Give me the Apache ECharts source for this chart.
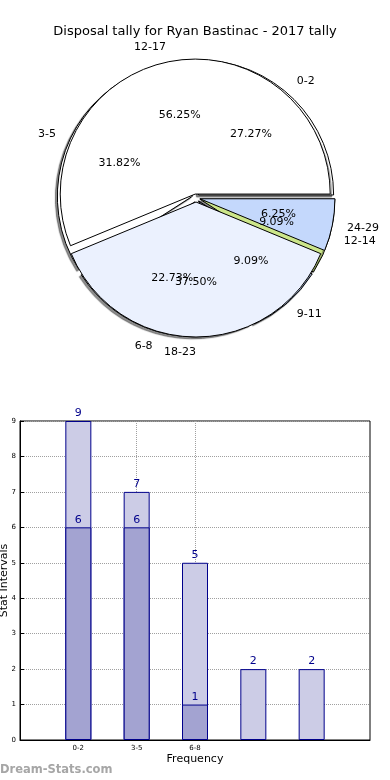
<!DOCTYPE html>
<html>
<head>
<meta charset="utf-8">
<script src="https://cdn.jsdelivr.net/npm/echarts@6/dist/echarts.min.js"></script>
<style>
html,body{margin:0;padding:0;background:#fff;}
#c{width:390px;height:780px;}
</style>
</head>
<body>
<div id="c"></div>
<script>
// ---- data ----
var titleText = 'Disposal tally for Ryan Bastinac - 2017 tally';
var pieANames = ['0-2', '3-5', '6-8', '9-11', '12-14'];
var pieAValues = [6, 7, 5, 2, 2];
var pieBNames = ['12-17', '18-23', '24-29'];
var pieBValues = [9, 6, 1];
var barTickLabels = ['0-2', '3-5', '6-8', '', ''];
var lightBarValues = [9, 7, 5, 2, 2];
var darkBarValues = [6, 6, 1];
var yTicks = [0, 1, 2, 3, 4, 5, 6, 7, 8, 9];

// ---- styles ----
var FONT = 'DejaVu Sans';
var pieAColors = ['#ffffff', '#ffffff', '#eaf0fd', '#c4d8fc', '#cce68a'];
var pieBColors = ['#ffffff', '#ebf1fe', '#c4d8fc'];
var R = 135;
var CENTER = [196, 198];

function pieData(names, values, colors) {
  return names.map(function (n, i) {
    return { name: n, value: values[i], selected: true, itemStyle: { color: colors[i] } };
  });
}
function labelData(names, values) {
  return names.map(function (n, i) { return { name: n, value: values[i] }; });
}
var shadowStyle = { shadowColor: 'rgba(0,0,0,0.45)', shadowBlur: 1, shadowOffsetX: -2, shadowOffsetY: 2 };
var pieCommon = {
  type: 'pie', center: CENTER, radius: [0, R], startAngle: 0, clockwise: false,
  selectedMode: 'multiple', selectedOffset: 4, avoidLabelOverlap: false,
  emphasis: { disabled: true }, silent: true,
  labelLayout: { hideOverlap: false },
  label: { show: true, position: 'outside', color: '#000', fontSize: 11, fontFamily: FONT,
           distanceToLabelLine: 0, alignTo: 'none' },
  labelLine: { show: false, length: 15, length2: 0 }
};
function mainPie(names, values, colors, z, shadow) {
  var st = Object.assign({ borderColor: '#000', borderWidth: 1 }, shadow ? shadowStyle : {});
  return Object.assign({}, pieCommon, {
    z: z,
    data: pieData(names, values, colors),
    itemStyle: st,
    select: { itemStyle: st }
  });
}
function pctPie(names, values, z) {
  return {
    type: 'pie', center: CENTER, radius: [0, R * 1.2], startAngle: 0, clockwise: false,
    silent: true, z: z, emphasis: { disabled: true },
    labelLayout: { hideOverlap: false },
    avoidLabelOverlap: false,
    itemStyle: { color: 'rgba(0,0,0,0)', borderWidth: 0 },
    label: { show: true, position: 'inside', color: '#000', fontSize: 11, fontFamily: FONT,
      formatter: function (p) { return p.percent.toFixed(2) + '%'; } },
    labelLine: { show: false },
    percentPrecision: 4,
    data: labelData(names, values)
  };
}

var xCats = [''].concat(barTickLabels, ['']);
function padBar(vals) {
  var out = [null];
  for (var i = 0; i < barTickLabels.length; i++) out.push(i < vals.length ? vals[i] : null);
  out.push(null);
  return out;
}
var showTick = function (index) { return !!xCats[index]; };

var option = {
  animation: false,
  backgroundColor: '#fff',
  title: { text: titleText, left: 'center', top: 20,
    textStyle: { fontFamily: FONT, fontSize: 13, fontWeight: 'normal', color: '#000' } },
  graphic: [{ type: 'text', left: 0, top: 764,
    style: { text: 'Dream-Stats.com', fill: '#a6a6a6', fontSize: 11.5, fontWeight: 'bold', fontFamily: FONT } }],
  grid: { left: 20, right: 20, top: 421, bottom: 40, show: true, borderColor: '#000', borderWidth: 1,
          containLabel: false, outerBoundsMode: 'none' },
  xAxis: {
    type: 'category', data: xCats, boundaryGap: false,
    axisLine: { lineStyle: { color: '#000' } },
    axisTick: { show: true, inside: true, length: 4, interval: showTick, lineStyle: { color: '#000' } },
    axisLabel: { interval: 0, fontSize: 7, color: '#000', fontFamily: FONT, margin: 5 },
    splitLine: { show: true, interval: showTick, lineStyle: { type: 'dotted', color: '#a0a0a0', width: 1 } },
    name: 'Frequency', nameLocation: 'middle', nameGap: 14, nameMoveOverlap: false,
    nameTextStyle: { fontFamily: FONT, fontSize: 11, color: '#000' }
  },
  yAxis: {
    type: 'value', min: yTicks[0], max: yTicks[yTicks.length - 1], interval: 1,
    axisLine: { show: true, lineStyle: { color: '#000' } },
    axisTick: { show: true, inside: true, length: 4, lineStyle: { color: '#000' } },
    axisLabel: { fontSize: 7, color: '#000', fontFamily: FONT, margin: 4 },
    splitLine: { show: true, lineStyle: { type: 'dotted', color: '#a0a0a0', width: 1 } },
    name: 'Stat Intervals', nameLocation: 'middle', nameGap: 10, nameMoveOverlap: false,
    nameTextStyle: { fontFamily: FONT, fontSize: 11, color: '#000' }
  },
  series: [
    mainPie(pieANames, pieAValues, pieAColors, 2, true),
    mainPie(pieBNames, pieBValues, pieBColors, 3, false),
    pctPie(pieANames, pieAValues, 4),
    pctPie(pieBNames, pieBValues, 5),
    {
      type: 'bar', data: padBar(lightBarValues), barWidth: 26, barGap: '-100%', z: 2,
      itemStyle: { color: '#cccce6', borderColor: '#00008b', borderWidth: 1 },
      label: { show: true, position: 'top', distance: 2, color: '#00008b', fontSize: 11, fontFamily: FONT },
      labelLayout: { hideOverlap: false },
      emphasis: { disabled: true }
    },
    {
      type: 'bar', data: padBar(darkBarValues), barWidth: 26, barGap: '-100%', z: 3,
      itemStyle: { color: '#a3a3d1', borderColor: '#00008b', borderWidth: 1 },
      label: { show: true, position: 'top', distance: 2, color: '#00008b', fontSize: 11, fontFamily: FONT },
      labelLayout: { hideOverlap: false },
      emphasis: { disabled: true }
    }
  ]
};
var chart = echarts.init(document.getElementById('c'), null, { renderer: 'canvas' });
chart.setOption(option);
</script>
</body>
</html>
